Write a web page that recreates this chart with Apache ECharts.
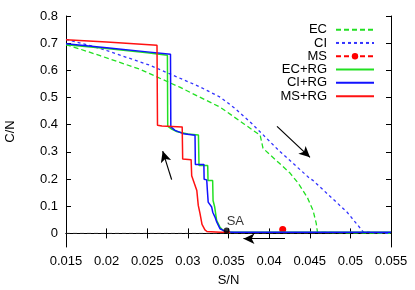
<!DOCTYPE html>
<html>
<head>
<meta charset="utf-8">
<script src="https://cdn.jsdelivr.net/npm/echarts@6/dist/echarts.min.js"></script>
<style>html,body{margin:0;padding:0;background:#fff}#c{width:415px;height:290px}</style>
</head>
<body>
<div id="c"></div>
<script>
// ---- data ----
const X_TICKS = [0.015,0.02,0.025,0.03,0.035,0.04,0.045,0.05,0.055];
const Y_TICKS = [0,0.1,0.2,0.3,0.4,0.5,0.6,0.7,0.8];
const SERIES_NAMES = ['EC','CI','MS','EC+RG','CI+RG','MS+RG'];
const ZERO_LINE = [[0.015,0],[0.055,0]];
const EC = [[0.015,0.695],[0.0192,0.654],[0.0241,0.604],[0.029,0.538],[0.034,0.464],[0.037,0.401],[0.0389,0.361],[0.03925,0.313],[0.0413,0.257],[0.0426,0.221],[0.0436,0.184],[0.0447,0.1325],[0.0454,0.085],[0.0458,0.037],[0.04595,0.004],[0.046,0],[0.055,0]];
const CI = [[0.015,0.714],[0.0192,0.681],[0.0253,0.619],[0.0315,0.539],[0.034,0.501],[0.0358,0.46],[0.0377,0.409],[0.0413,0.302],[0.045,0.2025],[0.0454,0.195],[0.0496,0.078],[0.0516,0.005],[0.0517,0],[0.055,0]];
const MS = [[0.04167,0.0147]];
const EC_RG = [[0.015,0.694],[0.02,0.68],[0.025,0.665],[0.02748,0.656],[0.02752,0.395],[0.028,0.384],[0.0287,0.374],[0.03,0.366],[0.0313,0.362],[0.03137,0.25],[0.03244,0.25],[0.03248,0.195],[0.03305,0.195],[0.0331,0.121],[0.0333,0.097],[0.03354,0.048],[0.03395,0.023],[0.03436,0.011],[0.0348,0.005],[0.0355,0.004],[0.055,0.004]];
const CI_RG = [[0.015,0.698],[0.02,0.683],[0.025,0.668],[0.02786,0.659],[0.0279,0.392],[0.02842,0.379],[0.02945,0.367],[0.03088,0.361],[0.03092,0.254],[0.03197,0.254],[0.032,0.199],[0.03232,0.197],[0.0324,0.158],[0.0325,0.115],[0.03293,0.097],[0.03306,0.078],[0.03334,0.06],[0.03355,0.042],[0.03395,0.017],[0.03436,0.011],[0.0347,0.005],[0.0357,0.004],[0.055,0.004]];
const MS_RG = [[0.015,0.713],[0.02,0.704],[0.0262,0.692],[0.02626,0.398],[0.0268,0.395],[0.0293,0.392],[0.02936,0.274],[0.0304,0.271],[0.03047,0.212],[0.0307,0.208],[0.0311,0.158],[0.03128,0.103],[0.03149,0.074],[0.03174,0.033],[0.0321,0.013],[0.03235,0.007],[0.034,0.004],[0.0352,0.004]];
const SA_POINT = [[0.03477,0.011]];
const ARROWS = [
  [[0.04097,0.394],[0.04503,0.280]],
  [[0.0280,0.198],[0.0269,0.303]],
  [[0.04195,-0.0195],[0.03684,-0.0195]]
];

// ---- chart ----
const FONT = 'Liberation Sans';
const chart = echarts.init(document.getElementById('c'), null, {renderer:'canvas'});
const axisCommon = {
  axisLine:{show:true,lineStyle:{color:'#000',width:1}},
  axisTick:{show:true,inside:true,length:5,lineStyle:{color:'#000',width:1}},
  splitLine:{show:false}
};
function lineSeries(name, data, color, width, dash, z){
  return {name, type:'line', data, symbol:'none', z, animation:false,
    lineStyle:{color, width, type: dash || 'solid'}, itemStyle:{color}};
}
const legendData = SERIES_NAMES.map(n => n === 'MS'
  ? {name:n, itemStyle:{opacity:1}}
  : {name:n, itemStyle:{opacity:0}});
chart.setOption({
  animation:false,
  grid:{left:66,right:24,top:16,bottom:43,outerBoundsMode:'none',containLabel:false},
  legend:{
    data:legendData, orient:'vertical', right:40, top:23, align:'right', padding:0,
    itemWidth:38, itemHeight:8, itemGap:0,
    textStyle:{fontFamily:FONT,fontSize:13,color:'#000',lineHeight:13.3,padding:[0,4,0,0]}
  },
  xAxis:[
    Object.assign({type:'value',min:0.015,max:0.055,interval:0.005,position:'bottom',
      name:'S/N',nameLocation:'middle',nameGap:27,
      nameTextStyle:{fontFamily:FONT,fontSize:13,color:'#000'},
      axisLabel:{fontFamily:FONT,fontSize:13,color:'#000',margin:8,customValues:X_TICKS}},
      axisCommon, {axisTick:Object.assign({},axisCommon.axisTick,{customValues:X_TICKS})}),
    Object.assign({type:'value',min:0.015,max:0.055,interval:0.005,position:'top',
      axisLabel:{show:false}}, axisCommon,
      {axisTick:Object.assign({},axisCommon.axisTick,{customValues:X_TICKS})})
  ],
  yAxis:[
    Object.assign({type:'value',min:-0.05,max:0.8,position:'left',
      name:'C/N',nameLocation:'middle',nameGap:49,
      nameTextStyle:{fontFamily:FONT,fontSize:13,color:'#000'},
      axisLabel:{fontFamily:FONT,fontSize:13,color:'#000',margin:8,customValues:Y_TICKS}},
      axisCommon, {axisTick:Object.assign({},axisCommon.axisTick,{customValues:Y_TICKS})}),
    Object.assign({type:'value',min:-0.05,max:0.8,position:'right',
      axisLabel:{show:false}}, axisCommon,
      {axisTick:Object.assign({},axisCommon.axisTick,{customValues:Y_TICKS})})
  ],
  series:[
    {name:'zero',type:'line',data:ZERO_LINE,symbol:'none',z:1,silent:true,
      lineStyle:{color:'#222',width:1,type:[4,3]}},
    lineSeries('EC', EC, '#22e022', 1.3, [5,3], 2),
    lineSeries('CI', CI, '#3333ff', 1.3, [3,3], 3),
    {name:'MS',type:'line',data:MS,symbol:'circle',symbolSize:7,showSymbol:true,z:4,
      lineStyle:{color:'#ff0000',width:1.3,type:[5,3]},itemStyle:{color:'#ff0000'}},
    lineSeries('EC+RG', EC_RG, '#22e022', 1.5, null, 5),
    lineSeries('CI+RG', CI_RG, '#1111ff', 1.5, null, 6),
    lineSeries('MS+RG', MS_RG, '#ff1111', 1.5, null, 7),
    {name:'SA',type:'scatter',data:SA_POINT,symbol:'circle',symbolSize:6,z:8,
      itemStyle:{color:'#000'},
      label:{show:true,formatter:'SA',position:'right',offset:[-8,-9],
        fontFamily:FONT,fontSize:13,color:'#000'},
      markLine:{silent:true,symbol:['none','arrow'],symbolSize:[8,11],
        lineStyle:{color:'#000',width:1.2,type:'solid'},label:{show:false},
        data:ARROWS.map(a=>[{coord:a[0]},{coord:a[1]}])}}
  ]
});
</script>
</body>
</html>
